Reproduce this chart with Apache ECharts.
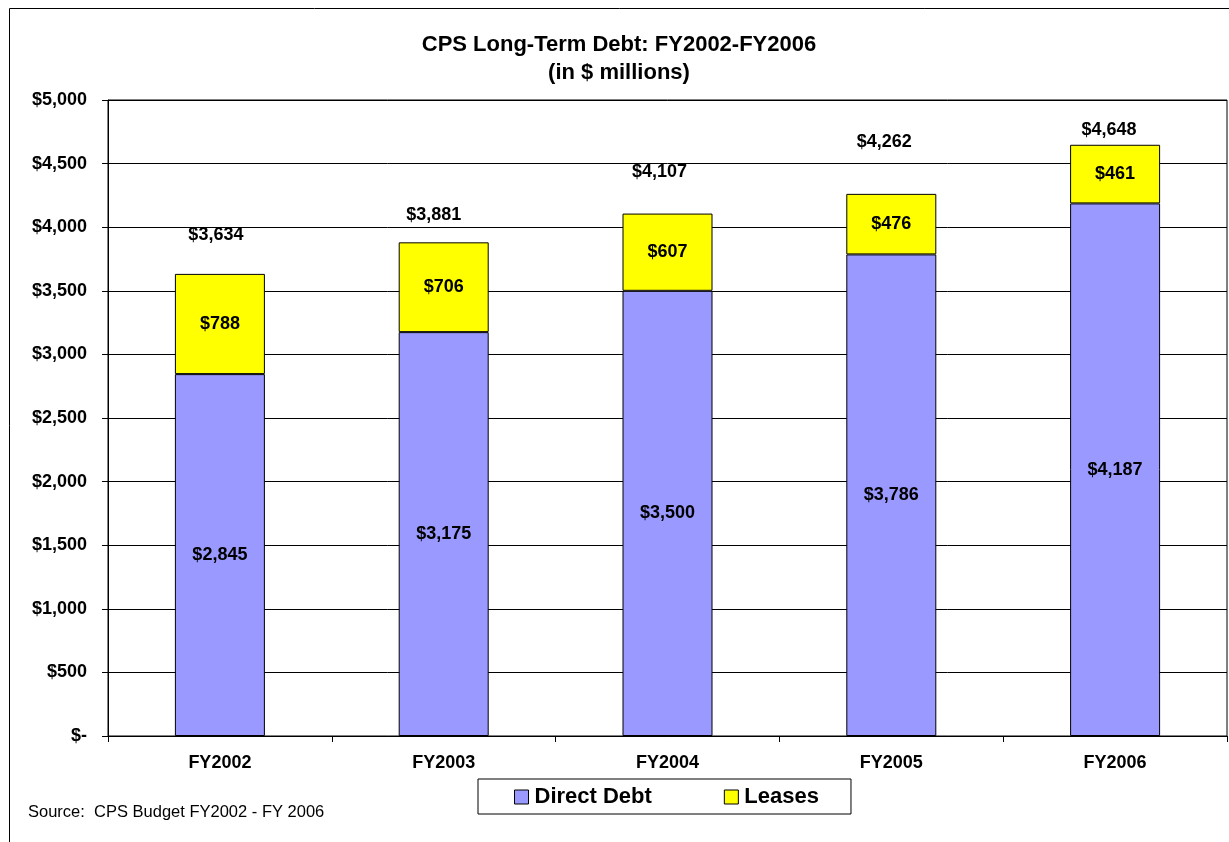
<!DOCTYPE html>
<html><head><meta charset="utf-8">
<script src="https://cdn.jsdelivr.net/npm/echarts@6/dist/echarts.min.js"></script>
<style>html,body{margin:0;padding:0;background:#fff}#c{width:1229px;height:842px}</style>
</head><body><div id="c"></div>
<script>
const categories = ['FY2002','FY2003','FY2004','FY2005','FY2006'];
const directDebt = [2845, 3175, 3500, 3786, 4187];
const leases = [788, 706, 607, 476, 461];
const totals = [3634, 3881, 4107, 4262, 4648];
const yTicks = [0, 500, 1000, 1500, 2000, 2500, 3000, 3500, 4000, 4500, 5000];

// style: pixel nudges for the total labels (as placed in the original)
const totalLabelNudge = [[-4, -30], [-10, -18], [-8, -33], [-7, -43], [-6, -6]];

const FONT = '"Liberation Sans", Arial, sans-serif';
const money = v => v === 0 ? '$-' : '$' + v.toLocaleString('en-US');

const chart = echarts.init(document.getElementById('c'), null, {renderer: 'canvas'});
chart.setOption({
  animation: false,
  textStyle: {fontFamily: FONT},
  title: {
    text: 'CPS Long-Term Debt: FY2002-FY2006\n(in $ millions)',
    left: 614, top: 26, textAlign: 'center',
    textStyle: {fontFamily: FONT, fontSize: 22, fontWeight: 'bold', color: '#000', lineHeight: 28}
  },
  graphic: [
    {type: 'rect', shape: {x: 9.5, y: 8.5, width: 1300, height: 900}, style: {fill: 'none', stroke: '#000', lineWidth: 1}, silent: true, z: -1},
    {type: 'text', left: 28, top: 804, style: {text: 'Source:  CPS Budget FY2002 - FY 2006', font: '16.5px ' + FONT, fill: '#000'}}
  ],
  legend: {
    left: 478, top: 779,
    itemWidth: 14, itemHeight: 14, itemGap: 72,
    padding: [7, 32, 6, 36],
    borderColor: '#000', borderWidth: 1,
    textStyle: {fontFamily: FONT, fontSize: 22, fontWeight: 'bold', color: '#000', padding: [0, 0, 0, 1]},
    data: [
      {name: 'Direct Debt', icon: 'rect', itemStyle: {borderColor: '#000', borderWidth: 1}},
      {name: 'Leases', icon: 'rect', itemStyle: {borderColor: '#000', borderWidth: 1}}
    ]
  },
  grid: {left: 108, right: 2, top: 100, bottom: 106, show: true, borderColor: '#000', borderWidth: 1},
  xAxis: {
    type: 'category', data: categories,
    axisLine: {lineStyle: {color: '#000'}},
    axisTick: {show: true, length: 6, lineStyle: {color: '#000'}},
    axisLabel: {fontFamily: FONT, fontSize: 18, fontWeight: 'bold', color: '#000', margin: 18}
  },
  yAxis: {
    type: 'value', min: 0, max: 5000, interval: 500,
    axisLine: {show: true, lineStyle: {color: '#000'}},
    axisTick: {show: true, length: 6, lineStyle: {color: '#000'}},
    splitLine: {lineStyle: {color: '#000', width: 1}},
    axisLabel: {fontFamily: FONT, fontSize: 18, fontWeight: 'bold', color: '#000', margin: 21, formatter: v => money(v)}
  },
  series: [
    {
      name: 'Direct Debt', type: 'bar', stack: 'd', data: directDebt, barWidth: 90,
      itemStyle: {color: '#9999FF', borderColor: '#000', borderWidth: 1},
      label: {show: true, position: 'inside', formatter: p => money(p.value), fontFamily: FONT, fontSize: 18, fontWeight: 'bold', color: '#000'}
    },
    {
      name: 'Leases', type: 'bar', stack: 'd', data: leases, barWidth: 90,
      itemStyle: {color: '#FFFF00', borderColor: '#000', borderWidth: 1},
      label: {show: true, position: 'inside', formatter: p => money(p.value), fontFamily: FONT, fontSize: 18, fontWeight: 'bold', color: '#000'}
    },
    {
      name: 'Total', type: 'scatter', symbolSize: 0, silent: true,
      itemStyle: {opacity: 1},
      data: totals.map((v, i) => ({value: v, label: {offset: totalLabelNudge[i]}})),
      label: {show: true, position: 'top', distance: 0, formatter: p => money(p.value), fontFamily: FONT, fontSize: 18, fontWeight: 'bold', color: '#000'}
    }
  ]
});
</script></body></html>
